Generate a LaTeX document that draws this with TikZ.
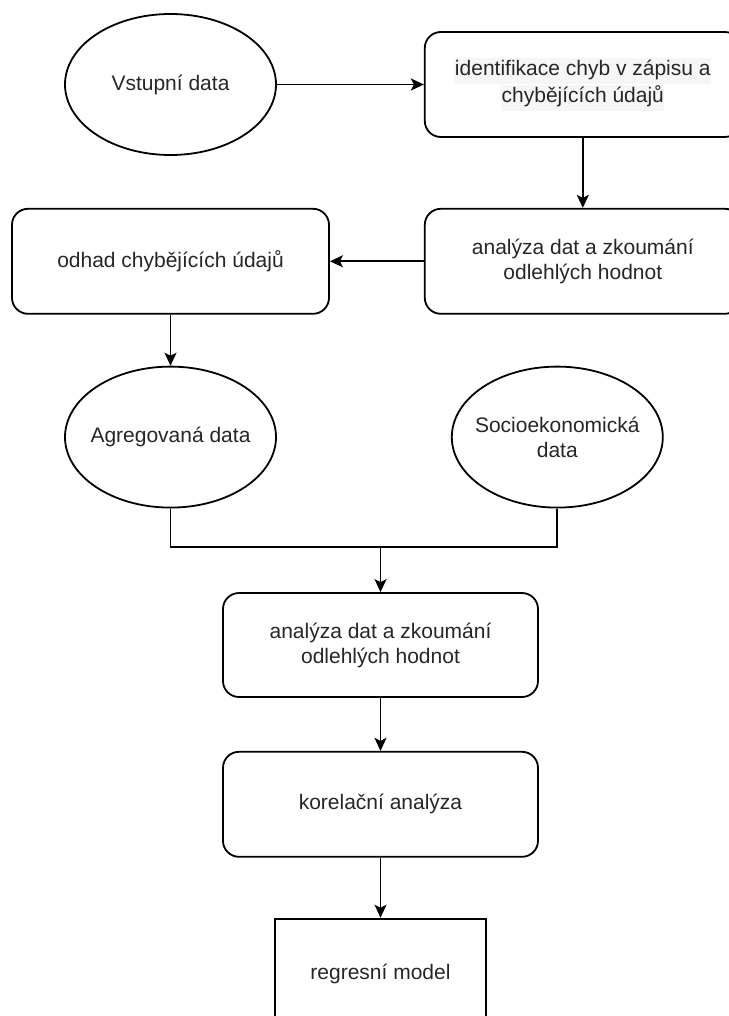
\documentclass[tikz,border=0pt]{standalone}
\usepackage{fontspec}
\setmainfont{Liberation Sans}
\usepackage{xcolor}
\usepackage{tikz}
\usetikzlibrary{arrows.meta,calc,positioning,shapes.geometric}
\definecolor{ink}{HTML}{262626}
\definecolor{hilite}{HTML}{F5F6F8}
\newcommand{\hlbox}[1]{{\setlength{\fboxsep}{0.5pt}\colorbox{hilite}{\strut #1}}}
\tikzset{
  >={Stealth[length=13pt,width=12pt,inset=3pt]},
  flow/.style={->,line width=1.8pt,draw=black},
  link/.style={line width=1.8pt,draw=black},
  base/.style={draw=black,line width=1.8pt,align=center,inner sep=0pt,text=ink,
               font=\fontsize{21}{25}\selectfont},
  datum/.style={base,ellipse,inner xsep=-12pt,minimum width=211pt,minimum height=141pt},
  process/.style={base,rounded corners=16pt,minimum width=316pt,minimum height=105pt},
  result/.style={base,minimum width=211pt,minimum height=110pt}
}

\begin{document}
\begin{tikzpicture}[x=1pt,y=-1pt]
  \useasboundingbox (0,0) rectangle (728,1016);
  % first stage: cleaning the input
  \node[datum] (vstup) at (170.5,84.5) {Vstupní data};
  \node[process,right=147pt of vstup] (ident) {\hlbox{identifikace chyb v zápisu a}\\\hlbox{chybějících údajů}};
  \node[process,below=70pt of ident] (ana1) {analýza dat a zkoumání\\odlehlých hodnot};
  \node[process,minimum width=317pt,left=94pt of ana1] (odhad) {odhad chybějících údajů};
  \draw[flow] (vstup) -- (ident);
  \draw[flow] (ident) -- (ana1);
  \draw[flow] (ana1) -- (odhad);
  % second stage: merging the two sources
  \node[datum,below=51pt of odhad] (agreg) {Agregovaná data};
  \node[datum,right=174pt of agreg] (socio) {Socioekonomická\\data};
  \node[process,minimum width=315pt,minimum height=104pt] (ana2) at (380.5,645) {analýza dat a zkoumání\\odlehlých hodnot};
  \node[process,minimum width=315pt,below=53pt of ana2] (korel) {korelační analýza};
  \node[result,below=60pt of korel] (regres) {regresní model};
  \coordinate (join) at ($(ana2.north)+(0,45pt)$);
  \draw[flow] (odhad) -- (agreg);
  \draw[link] (agreg.south) |- (join) -| (socio.south);
  \draw[flow] (join) -- (ana2);
  \draw[flow] (ana2) -- (korel);
  \draw[flow] (korel) -- (regres);
\end{tikzpicture}
\end{document}
